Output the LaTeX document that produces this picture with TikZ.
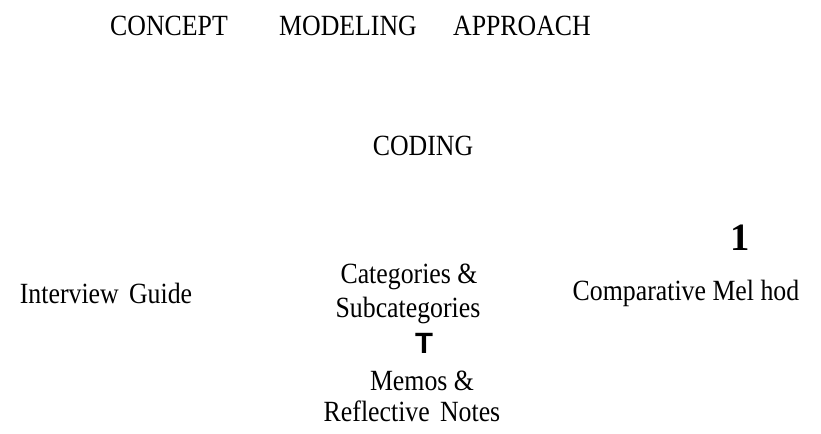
\documentclass[tikz,border=0pt]{standalone}
\usepackage{fontspec}
\setmainfont{Liberation Serif}
\setsansfont{Liberation Sans}
\newfontfamily\narrowserif[FakeStretch=0.88]{Liberation Serif}
\usetikzlibrary{positioning}

\begin{document}
\begin{tikzpicture}[x=0.75pt,y=-0.75pt,
  every node/.style={inner sep=0pt,anchor=base},
  word/.style={font=\narrowserif\fontsize{22}{26}\selectfont}]
\useasboundingbox (0,0) rectangle (821,433);

% title row
\node[word] (concept)  at (169,35) {CONCEPT};
\node[word] (modeling) at (348,35) {MODELING};
\node[word] (approach) at (522,35) {APPROACH};

\node[word] (coding) at (423,155) {CODING};

% lower row
\node[word] (guide) at (106,303) {Interview\hspace{0.35em}Guide};
\node[word] (cat1)  at (409,283) {Categories \&};
\node[word] (cat2)  at (408,317) {Subcategories};
\node[word] (comp)  at (686,300) {Comparative Mel hod};
\node[font=\fontsize{29}{34}\selectfont\bfseries] (one) at (740,250) {1};

% memo column
\node[font=\fontsize{22}{26}\selectfont\sffamily\bfseries] (tee) at (424,353) {T};
\node[word] (memo1) at (422,390) {Memos \&};
\node[word] (memo2) at (412,421) {Reflective\hspace{0.35em}Notes};
\end{tikzpicture}
\end{document}
